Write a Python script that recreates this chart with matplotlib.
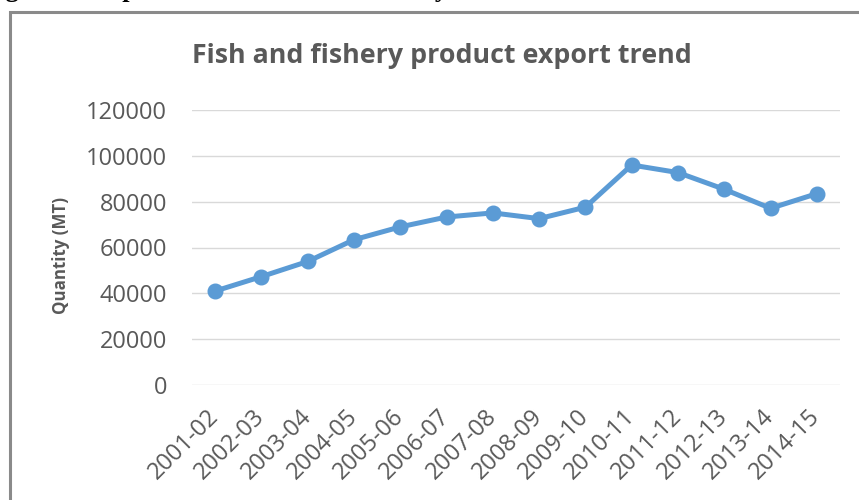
import matplotlib
matplotlib.use("Agg")
import matplotlib.pyplot as plt
from matplotlib.patches import Rectangle

years = ["2001-02", "2002-03", "2003-04", "2004-05", "2005-06", "2006-07", "2007-08",
         "2008-09", "2009-10", "2010-11", "2011-12", "2012-13", "2013-14", "2014-15"]
quantity = [41000, 47300, 53900, 63400, 69000, 73300, 75100,
            72600, 77600, 96000, 92700, 85400, 77100, 83500]
yticks = [0, 20000, 40000, 60000, 80000, 100000, 120000]

W, H = 859, 500
fig = plt.figure(figsize=(W / 100, H / 100), dpi=100)

# outer chart border (cropped)
fig.patches.append(Rectangle((10 / W, -0.1), 1.2, 1.1 - 12 / H, transform=fig.transFigure,
                             fill=False, edgecolor="#8a8a8a", linewidth=2.2))

# cropped caption text of the document above (only descenders visible)
fig.text(-18 / W, 1 + 3.5 / H, "Figure 5: Export trend of fish and fishery",
         family="Liberation Serif", fontweight="bold", fontsize=19, color="black",
         va="baseline", ha="left")

ax = fig.add_axes([192 / W, 1 - 385 / H, (840 - 192) / W, (385 - 110) / H])
x = list(range(len(years)))
ax.plot(x, quantity, color="#5b9bd5", linewidth=3.6, marker="o", markersize=10.5,
        solid_capstyle="round", zorder=3)
ax.set_xlim(-0.5, len(years) - 0.5)
ax.set_ylim(0, 120000)
ax.set_yticks(yticks)
ax.set_yticklabels([str(v) for v in yticks], family="Open Sans", fontsize=17, color="#595959")
ax.set_xticks(x)
ax.set_xticklabels(years, rotation=45, ha="right", va="center", rotation_mode="anchor",
                   family="Open Sans", fontsize=17, color="#595959")
ax.tick_params(axis="both", length=0)
ax.tick_params(axis="y", pad=18)
ax.tick_params(axis="x", pad=20)
ax.grid(axis="y", color="#d9d9d9", linewidth=1)
ax.set_axisbelow(True)
for s in ax.spines.values():
    s.set_visible(False)

fig.text(61 / W, 1 - 255 / H, "Quantity (MT)", rotation=90, family="Open Sans",
         fontweight="bold", fontsize=12.2, color="#595959", ha="center", va="center")
fig.text(442 / W, 1 - 56 / H, "Fish and fishery product export trend", family="Open Sans",
         fontweight="bold", fontsize=19.3, color="#595959", ha="center", va="center")

fig.savefig("out.png", dpi=100)
